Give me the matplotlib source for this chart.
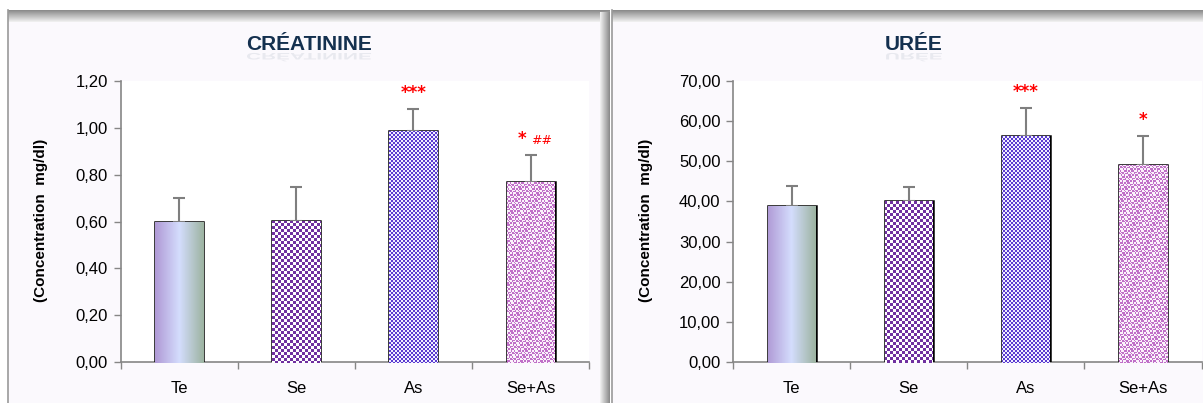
import numpy as np
import matplotlib
matplotlib.use("Agg")
import matplotlib.pyplot as plt
from matplotlib.colors import LinearSegmentedColormap, to_rgb
from matplotlib.patches import Rectangle, PathPatch
from matplotlib.textpath import TextPath
from matplotlib.font_manager import FontProperties
from matplotlib.transforms import Affine2D, IdentityTransform

plt.rcParams["font.family"] = ["Liberation Sans Narrow", "Liberation Sans", "DejaVu Sans"]

groups = ["Te", "Se", "As", "Se+As"]

creat_mean = [0.597, 0.603, 0.987, 0.768]
creat_sd = [0.103, 0.145, 0.093, 0.117]
creat_ticks = [0.0, 0.2, 0.4, 0.6, 0.8, 1.0, 1.2]
creat_labels = ["0,00", "0,20", "0,40", "0,60", "0,80", "1,00", "1,20"]
creat_stars = ["", "", "***", "*"]
creat_hash = ["", "", "", "##"]

urea_mean = [38.8, 40.0, 56.3, 49.2]
urea_sd = [5.1, 3.6, 6.9, 7.0]
urea_ticks = [0, 10, 20, 30, 40, 50, 60, 70]
urea_labels = ["0,00", "10,00", "20,00", "30,00", "40,00", "50,00", "60,00", "70,00"]
urea_stars = ["", "", "***", "*"]
urea_hash = ["", "", "", ""]

W, H = 1203, 403
fig = plt.figure(figsize=(W / 100, H / 100), dpi=100)

# background layer in pixel coordinates for the two panel frames
bg = fig.add_axes([0, 0, 1, 1])
bg.set_xlim(0, W)
bg.set_ylim(H, 0)
bg.axis("off")


def frame(x0, x1):
    bg.add_patch(Rectangle((x0, 10), x1 - x0, H, facecolor="#fbf9fd", edgecolor="none", zorder=0))
    band = np.linspace(0.55, 0.93, 12)[:, None] * np.ones((1, 4))
    bg.imshow(band, extent=(x0, x1, 22, 10), cmap="gray", vmin=0, vmax=1, aspect="auto", zorder=1)
    side = np.linspace(0.93, 0.55, 10)[None, :] * np.ones((4, 1))
    bg.imshow(side, extent=(x1 - 10, x1, H, 12), cmap="gray", vmin=0, vmax=1, aspect="auto", zorder=1)
    bg.plot([x0, x0], [10, H], color="#9a9a9a", lw=1.2, zorder=2)


frame(8, 610)
frame(612, 1213)
bg.set_xlim(0, W)
bg.set_ylim(H, 0)


def pattern(kind, pw, ph):
    i, j = np.mgrid[0:ph, 0:pw]
    if kind == "gradient":
        cmap = LinearSegmentedColormap.from_list("g", ["#b09ad6", "#d4ddfd", "#9db4a2"])
        return cmap(np.tile(np.linspace(0, 1, pw), (ph, 1)))[..., :3]
    if kind == "check3":
        fg, bgc, m = "#7030a0", "#ffffff", ((i // 3 + j // 3) % 2 == 0)
    elif kind == "check2":
        fg, bgc, m = "#5a3ad0", "#f0eeff", ((i // 2 + j // 2) % 2 == 0)
    else:
        fg, bgc = "#c070c8", "#fbf2fb"
        m = (((i + 2 * ((j // 2) % 2)) % 4) < 2) ^ (((j + (i // 3)) % 5) == 0)
    out = np.empty((ph, pw, 3))
    out[m] = to_rgb(fg)
    out[~m] = to_rgb(bgc)
    return out


kinds = ["gradient", "check3", "check2", "zig"]


def panel(left, title, tx, means, sds, ticks, labels, stars, hashes, lab_x):
    ax = fig.add_axes([left, 0.1017, 0.3895, 0.6973])
    ax.set_facecolor("white")
    x = np.arange(len(groups))
    ax.set_xlim(-0.5, len(groups) - 0.5)
    ax.set_ylim(ticks[0], ticks[-1])
    bars = ax.bar(x, means, width=0.41, facecolor="none", edgecolor="black", linewidth=1.8, zorder=3)
    for b, k in zip(bars, kinds):
        x0, x1 = b.get_x(), b.get_x() + b.get_width()
        p0 = ax.transData.transform((x0, 0))
        p1 = ax.transData.transform((x1, b.get_height()))
        xo, yo = int(np.floor(p0[0])), int(np.floor(p0[1]))
        pw, ph = int(np.ceil(p1[0])) - xo, int(np.ceil(p1[1])) - yo
        im = fig.figimage(pattern(k, pw, ph), xo=xo, yo=yo, origin="upper", zorder=2)
        im.set_clip_path(Rectangle((x0, 0), x1 - x0, b.get_height(), transform=ax.transData))
    ax.errorbar(x, means, yerr=[np.zeros(len(x)), sds], fmt="none", ecolor="#7f7f7f",
                elinewidth=1.5, capsize=4, capthick=1.5, zorder=4)
    span = ticks[-1] - ticks[0]
    for xi, m, s, st, hs in zip(x, means, sds, stars, hashes):
        y = m + s + span * 0.025
        if hs:
            ax.text(xi - 0.07, y, st, color="red", ha="center", va="bottom",
                    fontsize=12, fontweight="bold", family="DejaVu Sans")
            ax.text(xi + 0.09, y + span * 0.004, hs, color="red", ha="center", va="bottom",
                    fontsize=9, family="DejaVu Sans")
        elif st:
            ax.text(xi, y, st, color="red", ha="center", va="bottom",
                    fontsize=12, fontweight="bold", family="DejaVu Sans")
    ax.set_yticks(ticks)
    ax.set_yticklabels(labels)
    ax.set_xticks(x)
    ax.set_xticklabels(groups)
    ax.set_xticks(np.arange(-0.5, len(groups)), minor=True)
    ax.tick_params(axis="x", which="major", length=0, pad=14, labelsize=12)
    ax.tick_params(axis="x", which="minor", length=5, color="#868686", width=1)
    ax.tick_params(axis="y", length=5, color="#868686", width=1, labelsize=12, pad=4)
    for sp in ["top", "right"]:
        ax.spines[sp].set_visible(False)
    for sp in ["left", "bottom"]:
        ax.spines[sp].set_color("#868686")
        ax.spines[sp].set_linewidth(1.2)
    fig.text(lab_x / W, 1 - 220 / H, "(Concentration  mg/dl)", rotation=90, ha="center", va="center",
             fontsize=11, fontweight="bold", family="Liberation Sans")
    # title with a faint reflection below it
    fp = FontProperties(family=["Liberation Sans Narrow", "Liberation Sans"], weight="bold", size=15)
    fig.text(tx / W, 1 - 44 / H, title, ha="center", va="center", color="#14304f", fontproperties=fp)
    tp = TextPath((0, 0), title, size=15 * 100 / 72, prop=fp)
    ext = tp.get_extents()
    tr = Affine2D().translate(-(ext.x0 + ext.x1) / 2, 0).scale(1, -0.45).translate(tx, H - 53)
    fig.add_artist(PathPatch(tp, transform=tr + IdentityTransform(), facecolor="#14304f",
                             edgecolor="none", alpha=0.08))
    return ax


panel(120.6 / W, "CRÉATININE", 309, creat_mean, creat_sd, creat_ticks, creat_labels,
      creat_stars, creat_hash, 41)
panel(733 / W, "URÉE", 914, urea_mean, urea_sd, urea_ticks, urea_labels,
      urea_stars, urea_hash, 646)

fig.savefig("out.png", dpi=100)
